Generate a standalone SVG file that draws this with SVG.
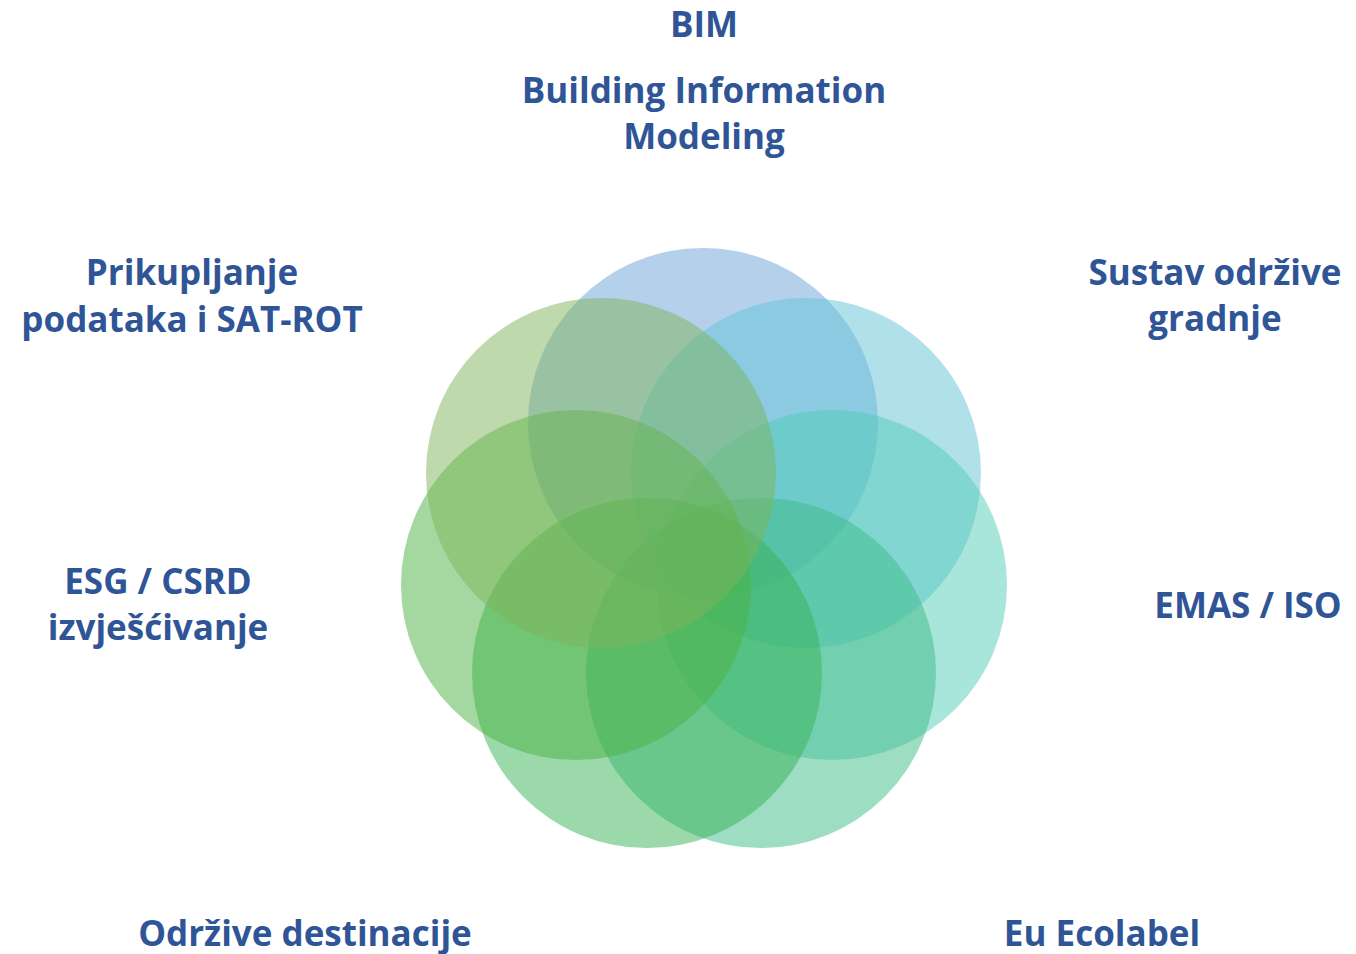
<svg xmlns="http://www.w3.org/2000/svg" width="1356" height="954" viewBox="0 0 1356 954">
<style>
.lbl{font-family:"Open Sans","Liberation Sans",sans-serif;font-weight:bold;font-size:35px;fill:#2F5597;text-anchor:middle}
.c{opacity:0.5}
</style>
<rect width="1356" height="954" fill="#FFFFFF"/>
<g id="circles">
<circle id="c-bim" class="c" cx="703" cy="423" r="175" fill="#69A1D7"/>
<circle id="c-sustav" class="c" cx="806" cy="473" r="175" fill="#61C3D5"/>
<circle id="c-emas" class="c" cx="832" cy="585" r="175" fill="#51CBB7"/>
<circle id="c-eco" class="c" cx="761" cy="673" r="175" fill="#3BBB85"/>
<circle id="c-dest" class="c" cx="647" cy="673" r="175" fill="#37B155"/>
<circle id="c-esg" class="c" cx="576" cy="585" r="175" fill="#4BB141"/>
<circle id="c-sat" class="c" cx="601" cy="473" r="175" fill="#7DB359"/>
</g>
<g id="n-bim"><text class="lbl" x="704" y="37">BIM</text>
<text class="lbl" x="704" y="103">Building Information</text>
<text class="lbl" x="704" y="149">Modeling</text></g>
<g id="n-sustav"><text class="lbl" x="1215" y="285">Sustav održive</text>
<text class="lbl" x="1215" y="331">gradnje</text></g>
<g id="n-sat"><text class="lbl" x="192" y="285">Prikupljanje</text>
<text class="lbl" x="192" y="332">podataka i SAT-ROT</text></g>
<g id="n-esg"><text class="lbl" x="158" y="594">ESG / CSRD</text>
<text class="lbl" x="158" y="640">izvješćivanje</text></g>
<g id="n-emas"><text class="lbl" x="1248" y="618">EMAS / ISO</text></g>
<g id="n-dest"><text class="lbl" x="305" y="946">Održive destinacije</text></g>
<g id="n-eco"><text class="lbl" x="1102" y="946">Eu Ecolabel</text></g>
<g id="connectors"/>
</svg>
